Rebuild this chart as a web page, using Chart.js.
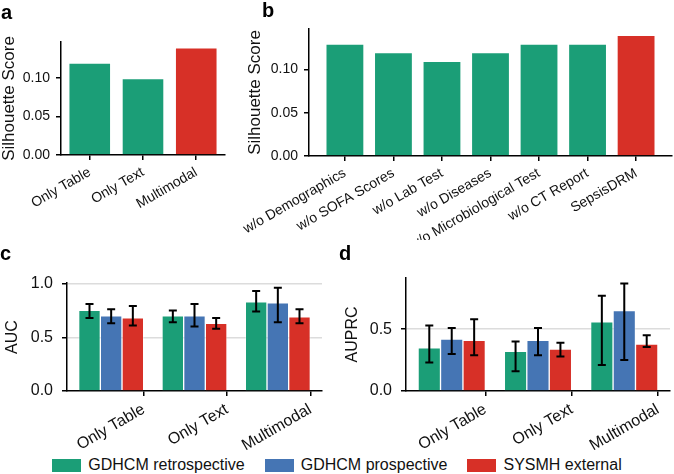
<!DOCTYPE html>
<html>
<head>
<meta charset="utf-8">
<script src="https://cdn.jsdelivr.net/npm/chart.js@4/dist/chart.umd.min.js"></script>
<style>
  body { margin: 0; background: #fff; font-family: "Liberation Sans", Arial, sans-serif; }
  #wrap { position: relative; width: 674px; height: 474px; overflow: hidden; }
  canvas { position: absolute; }
  .tag { position: absolute; font-weight: bold; font-size: 20px; line-height: 20px; color: #000; }
  #legend { position: absolute; left: 0; top: 456px; width: 674px; height: 18px; display: flex; justify-content: center; font-size: 16px; color: #111; }
  #legend span.item { display: flex; align-items: center; margin: 0 10px; }
  #legend span.box { display: inline-block; width: 29px; height: 13px; margin-right: 7px; }
</style>
</head>
<body>
<div id="wrap">
  <canvas id="chartA" width="235" height="230" style="left:0;top:0"></canvas>
  <canvas id="chartB" width="439" height="240" style="left:235px;top:0"></canvas>
  <canvas id="chartC" width="337" height="215" style="left:0;top:240px"></canvas>
  <canvas id="chartD" width="337" height="215" style="left:337px;top:240px"></canvas>
  <div class="tag" style="left:1px;top:2px">a</div>
  <div class="tag" style="left:262px;top:0px">b</div>
  <div class="tag" style="left:0px;top:243px">c</div>
  <div class="tag" style="left:339px;top:243px">d</div>
  <div id="legend"></div>
</div>
<script>
// panel a
var catsA = ['Only Table', 'Only Text', 'Multimodal'];
var silA = [0.12, 0.10, 0.14];
// panel b
var catsB = ['w/o Demographics', 'w/o SOFA Scores', 'w/o Lab Test', 'w/o Diseases',
             'w/o Microbiological Test', 'w/o CT Report', 'SepsisDRM'];
var silB = [0.13, 0.12, 0.11, 0.12, 0.13, 0.13, 0.14];
var silTicks = [0, 0.05, 0.10];

// panels c and d
var modes = ['Only Table', 'Only Text', 'Multimodal'];
var cohorts = ['GDHCM retrospective', 'GDHCM prospective', 'SYSMH external'];

var aucRetro = [0.75, 0.70, 0.83], aucRetroLo = [0.68, 0.64, 0.74], aucRetroHi = [0.81, 0.75, 0.93];
var aucPro = [0.70, 0.70, 0.82], aucProLo = [0.63, 0.60, 0.64], aucProHi = [0.76, 0.81, 0.96];
var aucExt = [0.68, 0.63, 0.69], aucExtLo = [0.61, 0.58, 0.63], aucExtHi = [0.79, 0.68, 0.76];
var aucTicks = [0, 0.5, 1.0];

var prRetro = [0.35, 0.32, 0.56], prRetroLo = [0.23, 0.16, 0.21], prRetroHi = [0.53, 0.40, 0.77];
var prPro = [0.42, 0.41, 0.65], prProLo = [0.30, 0.29, 0.25], prProHi = [0.51, 0.51, 0.87];
var prExt = [0.41, 0.34, 0.38], prExtLo = [0.29, 0.28, 0.355], prExtHi = [0.58, 0.39, 0.45];
var prTicks = [0, 0.5];

var GREEN = '#1b9e77', BLUE = '#4575b4', RED = '#d73027';
var colors = [GREEN, BLUE, RED];
var FONT = '"Liberation Sans", Arial, sans-serif';
var BW = 0.26; // bar width in group units

// error bars drawn on top of the bars
var errorBars = {
    id: 'errorBars',
    afterDatasetsDraw: function(chart) {
        var ctx = chart.ctx;
        var y = chart.scales.y;
        ctx.save();
        ctx.strokeStyle = '#000';
        ctx.lineWidth = 2;
        chart.data.datasets.forEach(function(ds, i) {
            if (!ds.lo) return;
            chart.getDatasetMeta(i).data.forEach(function(bar, j) {
                var y1 = y.getPixelForValue(ds.lo[j]);
                var y2 = y.getPixelForValue(ds.hi[j]);
                ctx.beginPath();
                ctx.moveTo(bar.x, y1); ctx.lineTo(bar.x, y2);
                ctx.moveTo(bar.x - 4, y1); ctx.lineTo(bar.x + 4, y1);
                ctx.moveTo(bar.x - 4, y2); ctx.lineTo(bar.x + 4, y2);
                ctx.stroke();
            });
        });
        ctx.restore();
    }
};

function xAxis(labels, tickPos, xmin, xmax, h, fsize) {
    return {
        type: 'linear', min: xmin, max: xmax, offset: false,
        afterBuildTicks: function(s) { s.ticks = tickPos.map(function(v) { return {value: v}; }); },
        afterFit: function(s) { s.height = h; s.paddingLeft = 0; s.paddingRight = 0; },
        grid: { display: true, offset: false, drawOnChartArea: false, drawTicks: true, tickLength: 5, color: '#000', lineWidth: 1.5 },
        border: { display: true, color: '#000', width: 1.5 },
        ticks: {
            autoSkip: false, minRotation: 30, maxRotation: 30, padding: 4, color: '#111',
            font: { family: FONT, size: fsize },
            callback: function(v, i) { return labels[i]; }
        }
    };
}

function yAxis(o) {
    return {
        min: 0, max: o.max,
        afterBuildTicks: function(s) { s.ticks = o.ticks.map(function(v) { return {value: v}; }); },
        afterFit: function(s) { s.width = o.w; s.paddingTop = 0; s.paddingBottom = 0; },
        grid: {
            display: true, drawOnChartArea: o.grid, drawTicks: true, tickLength: 5,
            color: function(c) { return c.tick && c.tick.value === 0 ? 'rgba(0,0,0,0)' : '#dcdcdc'; },
            tickColor: '#000', lineWidth: 1.5
        },
        border: { display: true, color: '#000', width: 1.5 },
        ticks: {
            padding: o.tickPad, color: '#111', font: { family: FONT, size: o.tickSize },
            callback: function(v) { return v.toFixed(o.dec); }
        },
        title: {
            display: true, text: o.title, color: '#111',
            font: { family: FONT, size: o.titleSize, lineHeight: 1 },
            padding: { top: o.titlePad, bottom: 0 }
        }
    };
}

function baseOptions(pad) {
    return {
        responsive: false,
        animation: false,
        layout: { padding: pad },
        plugins: { legend: { display: false }, tooltip: { enabled: false } },
        datasets: { bar: { grouped: false, categoryPercentage: 1, barPercentage: 1 } }
    };
}

// panel a
var optA = baseOptions({ top: 42, right: 10, left: 0, bottom: 0 });
optA.scales = {
    x: xAxis(catsA, [0, 1, 2], -0.54, 2.54, 75, 14),
    y: yAxis({ title: 'Silhouette Score', ticks: silTicks, max: 0.147, w: 61, dec: 2,
               tickSize: 14, tickPad: 6, titleSize: 17, titlePad: 1, grid: false })
};
new Chart(document.getElementById('chartA'), {
    type: 'bar',
    data: {
        datasets: [{
            data: silA.map(function(v, i) { return {x: i, y: v}; }),
            backgroundColor: [GREEN, GREEN, RED],
            borderColor: 'rgba(255,255,255,0.35)', borderWidth: 1,
            barPercentage: 0.8
        }]
    },
    options: optA
});

// panel b
var optB = baseOptions({ top: 29, right: 2, left: 0, bottom: 0 });
optB.scales = {
    x: xAxis(catsB, [0, 1, 2, 3, 4, 5, 6], -0.74, 6.74, 84, 14),
    y: yAxis({ title: 'Silhouette Score', ticks: silTicks, max: 0.147, w: 74, dec: 2,
               tickSize: 14, tickPad: 6, titleSize: 17, titlePad: 12, grid: false })
};
new Chart(document.getElementById('chartB'), {
    type: 'bar',
    data: {
        datasets: [{
            data: silB.map(function(v, i) { return {x: i, y: v}; }),
            backgroundColor: silB.map(function(v, i) { return i === silB.length - 1 ? RED : GREEN; }),
            borderColor: 'rgba(255,255,255,0.35)', borderWidth: 1,
            barPercentage: 0.8
        }]
    },
    options: optB
});

function groupSets(means, los, his) {
    return means.map(function(m, k) {
        return {
            label: cohorts[k],
            data: m.map(function(v, i) { return {x: i + (k - 1) * BW, y: v}; }),
            lo: los[k], hi: his[k],
            backgroundColor: colors[k],
            borderColor: 'rgba(255,255,255,0.35)', borderWidth: 1
        };
    });
}
var groupTicks = modes.map(function(m, i) { return i + 1.5 * BW; });

// panel c
var optC = baseOptions({ top: 43, right: 15, left: 0, bottom: 0 });
optC.scales = {
    x: xAxis(modes, groupTicks, -0.53, 2.53, 64, 16),
    y: yAxis({ title: 'AUC', ticks: aucTicks, max: 1.005, w: 67, dec: 1,
               tickSize: 16, tickPad: 9, titleSize: 16, titlePad: 5, grid: true })
};
new Chart(document.getElementById('chartC'), {
    type: 'bar',
    data: { datasets: groupSets([aucRetro, aucPro, aucExt], [aucRetroLo, aucProLo, aucExtLo], [aucRetroHi, aucProHi, aucExtHi]) },
    options: optC,
    plugins: [errorBars]
});

// panel d
var optD = baseOptions({ top: 38, right: 4, left: 0, bottom: 0 });
optD.scales = {
    x: xAxis(modes, groupTicks, -0.53, 2.53, 64, 16),
    y: yAxis({ title: 'AUPRC', ticks: prTicks, max: 0.914, w: 69, dec: 1,
               tickSize: 16, tickPad: 9, titleSize: 16, titlePad: 8, grid: true })
};
new Chart(document.getElementById('chartD'), {
    type: 'bar',
    data: { datasets: groupSets([prRetro, prPro, prExt], [prRetroLo, prProLo, prExtLo], [prRetroHi, prProHi, prExtHi]) },
    options: optD,
    plugins: [errorBars]
});

// shared legend
var leg = document.getElementById('legend');
cohorts.forEach(function(name, k) {
    var item = document.createElement('span');
    item.className = 'item';
    item.innerHTML = '<span class="box" style="background:' + colors[k] + '"></span>' + name;
    leg.appendChild(item);
});
</script>
</body>
</html>
